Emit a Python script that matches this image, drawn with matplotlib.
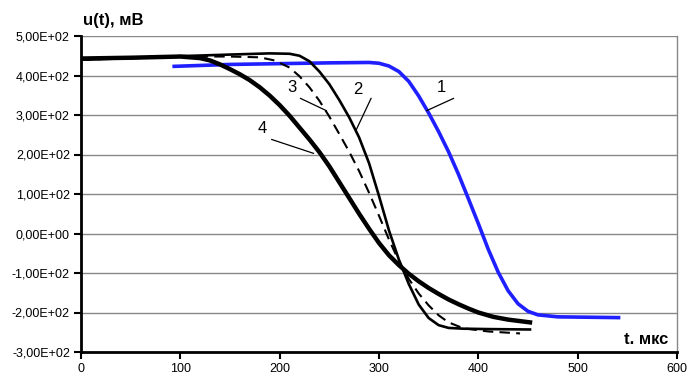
import matplotlib
matplotlib.use("Agg")
import matplotlib.pyplot as plt

plt.rcParams['font.family'] = ['Liberation Sans', 'DejaVu Sans']

# curve 1 (blue)
t1 = [92, 150, 200, 250, 290, 300, 310, 320, 330, 340, 350, 360, 370, 380, 390, 400,
      410, 420, 430, 440, 450, 460, 480, 543]
v1 = [423, 428, 430, 432, 433, 431, 424, 410, 385, 348, 305, 258, 207, 150, 88, 25,
      -40, -98, -145, -178, -197, -206, -211, -213]

# curve 2 (solid)
t2 = [0, 50, 100, 150, 190, 210, 220, 230, 240, 250, 260, 270, 280, 290, 300, 310,
      320, 330, 340, 350, 360, 370, 385, 410, 452]
v2 = [440, 444, 449, 453, 456, 455, 450, 436, 410, 378, 338, 294, 243, 178, 95, 8,
      -66, -128, -180, -214, -232, -239, -241, -242, -243]

# curve 3 (dashed)
t3 = [0, 50, 100, 150, 180, 195, 210, 220, 230, 240, 250, 260, 270, 280, 290, 300,
      310, 320, 330, 340, 350, 360, 370, 385, 410, 442]
v3 = [440, 444, 448, 448, 446, 438, 420, 398, 370, 336, 296, 252, 207, 158, 103, 45,
      -15, -70, -115, -152, -182, -207, -225, -240, -248, -253]

# curve 4 (thick)
t4 = [0, 50, 100, 120, 130, 140, 150, 160, 170, 180, 190, 200, 210, 220, 230, 240,
      250, 260, 270, 280, 290, 300, 310, 320, 330, 340, 350, 360, 370, 380, 390, 400,
      415, 430, 452]
v4 = [443, 445, 448, 444, 438, 428, 416, 403, 388, 370, 349, 325, 298, 268, 238, 206,
      170, 130, 90, 50, 12, -24, -55, -80, -102, -121, -138, -153, -167, -179, -190, -200,
      -211, -218, -225]

# labels: text position, leader line start, leader line end
labels = ['1', '2', '3', '4']
label_xy = [(363, 370), (279, 364), (212, 370), (182, 266)]
lead_from = [(375, 342), (292, 342), (221, 342), (192, 238)]
lead_to = [(348, 311), (277, 262), (247, 311), (234, 203)]

yticks = [-300, -200, -100, 0, 100, 200, 300, 400, 500]
ytick_labels = ['-3,00E+02', '-2,00E+02', '-1,00E+02', '0,00E+00', '1,00E+02',
                '2,00E+02', '3,00E+02', '4,00E+02', '5,00E+02']
xticks = [0, 100, 200, 300, 400, 500, 600]

fig = plt.figure(figsize=(6.9, 3.76), dpi=100)
ax = fig.add_axes([81 / 690, 1 - 352 / 376, 596 / 690, 316 / 376])

ax.plot(t1, v1, color='#1f1fff', lw=2.6, solid_capstyle='butt')
ax.plot(t2, v2, color='black', lw=1.9)
ax.plot(t3, v3, color='black', lw=1.5, dashes=(5, 3))
ax.plot(t4, v4, color='black', lw=3.2)

for lab, p, a, b in zip(labels, label_xy, lead_from, lead_to):
    ax.text(p[0], p[1], lab, fontsize=12, ha='center', va='center')
    ax.plot([a[0], b[0]], [a[1], b[1]], color='black', lw=0.9)

ax.set_xlim(0, 600)
ax.set_ylim(-300, 500)
ax.set_xticks(xticks)
ax.set_yticks(yticks)
ax.set_yticklabels(ytick_labels)
ax.tick_params(labelsize=9, direction='out', length=5, width=1.5, pad=3)
ax.yaxis.grid(True, color='#888888', lw=1)
ax.set_axisbelow(True)

ax.spines['top'].set_visible(False)
ax.spines['right'].set_color('#888888')
ax.spines['right'].set_linewidth(1)
ax.spines['left'].set_linewidth(2)
ax.spines['bottom'].set_linewidth(2)

fig.text(83 / 690, 1 - 20 / 376, 'u(t), мВ', fontsize=12, fontweight='bold', va='center', ha='left')
fig.text(668 / 690, 1 - 339 / 376, 't. мкс', fontsize=12, fontweight='bold', va='center', ha='right')

fig.savefig('out.png', dpi=100)
